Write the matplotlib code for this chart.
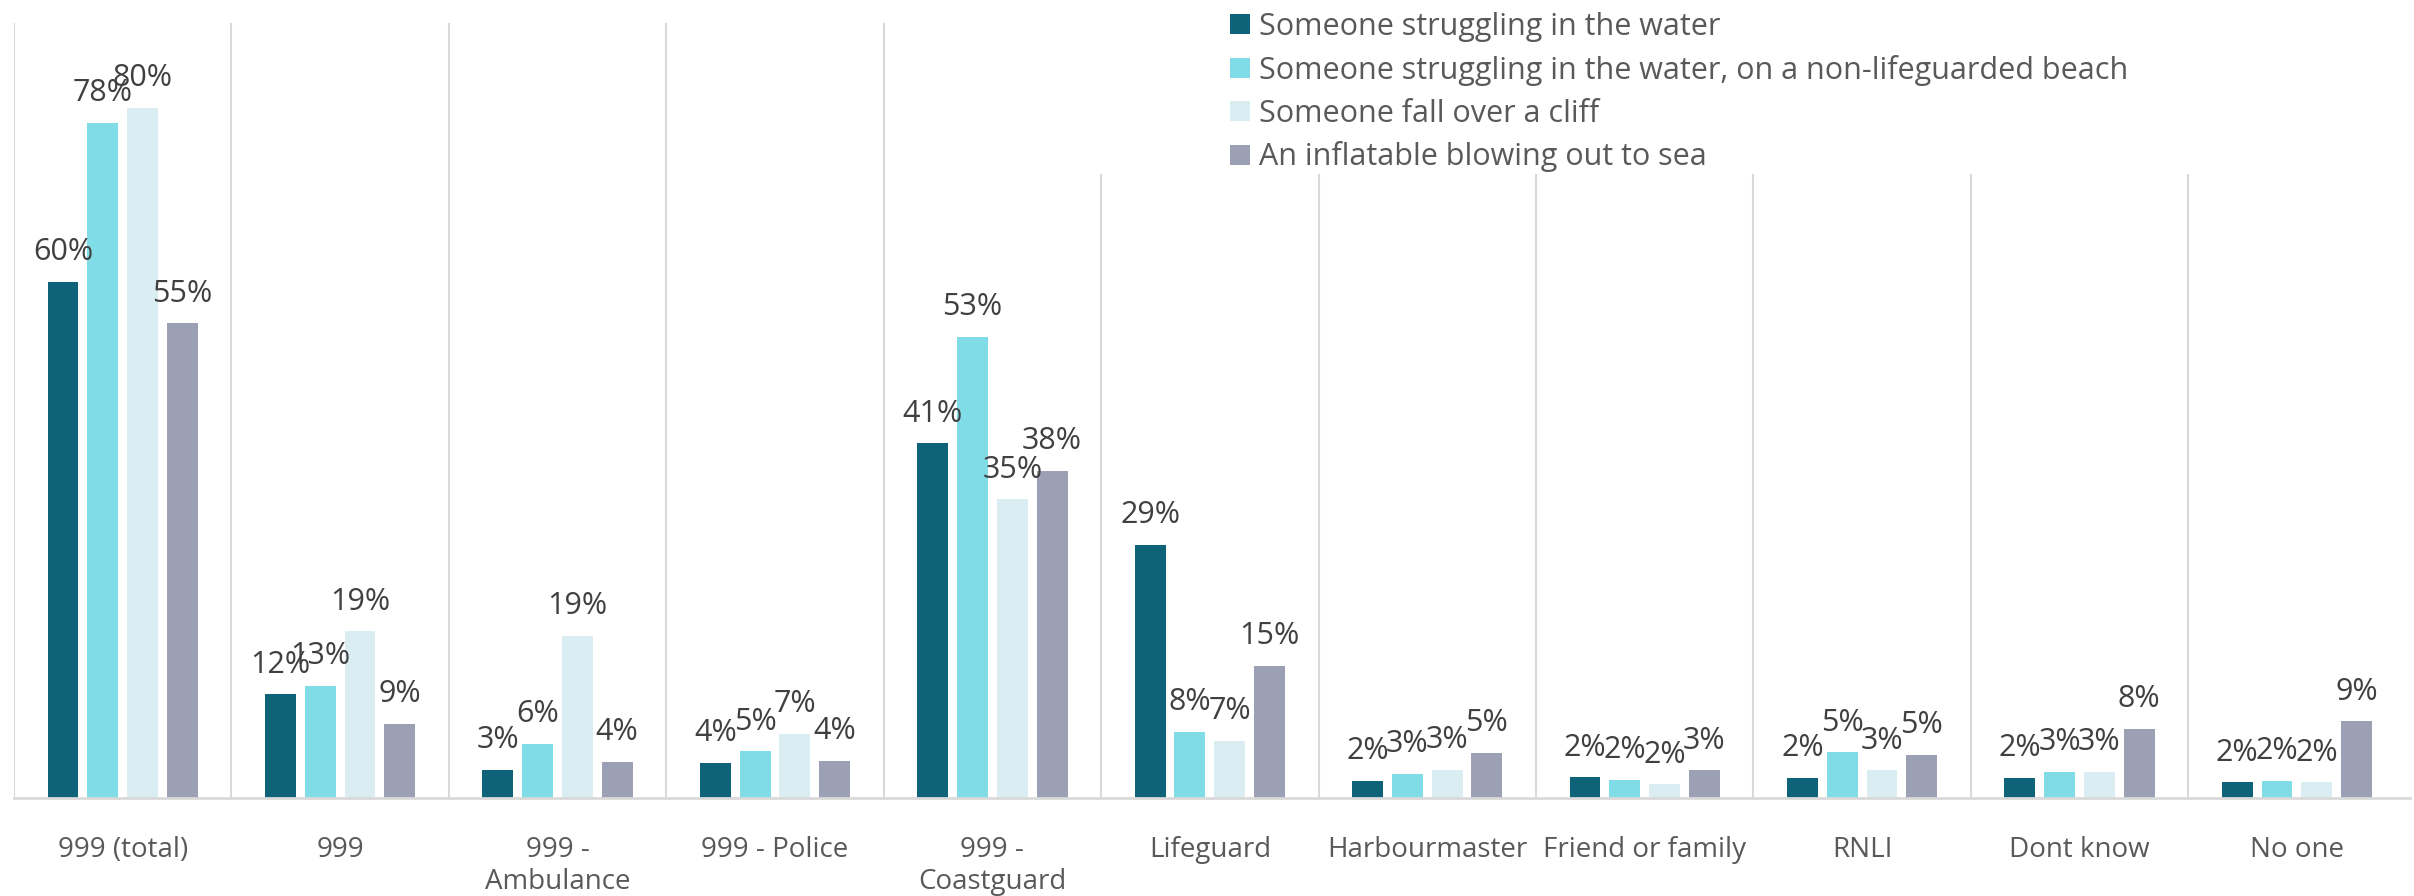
import numpy as np
import matplotlib.pyplot as plt
from matplotlib.patches import Rectangle

plt.rcParams['font.family'] = ['Open Sans', 'DejaVu Sans']

# categories and series (percent)
categories = ['999 (total)', '999', '999 -\nAmbulance', '999 - Police', '999 -\nCoastguard',
              'Lifeguard', 'Harbourmaster', 'Friend or family', 'RNLI', 'Dont know', 'No one']
series_names = ['Someone struggling in the water',
                'Someone struggling in the water, on a non-lifeguarded beach',
                'Someone fall over a cliff',
                'An inflatable blowing out to sea']
water = [59.8, 12.0, 3.3, 4.1, 41.1, 29.3, 2.0, 2.4, 2.3, 2.3, 1.8]
water_nolg = [78.2, 13.0, 6.3, 5.4, 53.4, 7.7, 2.8, 2.1, 5.3, 3.0, 2.0]
cliff = [80.0, 19.3, 18.8, 7.4, 34.6, 6.6, 3.3, 1.6, 3.2, 3.0, 1.8]
inflatable = [55.0, 8.6, 4.2, 4.3, 37.9, 15.3, 5.2, 3.2, 5.0, 8.0, 8.9]
# labels as printed on the chart
labels_txt = [
    [60, 12, 3, 4, 41, 29, 2, 2, 2, 2, 2],
    [78, 13, 6, 5, 53, 8, 3, 2, 5, 3, 2],
    [80, 19, 19, 7, 35, 7, 3, 2, 3, 3, 2],
    [55, 9, 4, 4, 38, 15, 5, 3, 5, 8, 9],
]
colors = ['#0E6378', '#80DCE6', '#D9EDF2', '#9CA0B5']

fig = plt.figure(figsize=(24.14, 8.96), dpi=100)
ax = fig.add_axes([14 / 2414, 98 / 896, 2396 / 2414, 775 / 896])

x = np.arange(len(categories))
width = 0.142
step = 0.183
data = [water, water_nolg, cliff, inflatable]
for i, (vals, col, name) in enumerate(zip(data, colors, series_names)):
    pos = x + (i - 1.5) * step
    ax.bar(pos, vals, width=width, color=col, label=name, zorder=3)
    for p, v, t in zip(pos, vals, labels_txt[i]):
        ax.text(p, v + 1.7, f'{t}%', ha='center', va='bottom', fontsize=22,
                color='#404040', zorder=5)

ax.set_xlim(-0.5, 10.52)
ax.set_ylim(0, 89.8)

# category separators
for b in np.arange(-0.5, 10.5, 1.0):
    ax.axvline(b, color='#D9D9D9', lw=1.5, zorder=1)

# legend area (white) hides the separators underneath
ax.add_patch(Rectangle((4.0, 72.3), 7, 30, facecolor='white', edgecolor='none', zorder=2))

for s in ['top', 'right', 'left']:
    ax.spines[s].set_visible(False)
ax.spines['bottom'].set_color('#D9D9D9')
ax.spines['bottom'].set_linewidth(2)
ax.spines['bottom'].set_zorder(4)

ax.set_yticks([])
ax.set_xticks(x)
ax.set_xticklabels(categories, fontsize=20, color='#595959', linespacing=1.22)
ax.tick_params(axis='x', length=0, pad=27)

leg = fig.legend(loc='upper left', bbox_to_anchor=(1230 / 2414, 1 - 12 / 896), frameon=False,
                 fontsize=22, handlelength=0.64, handleheight=0.64, handletextpad=0.3,
                 labelspacing=0.42, borderpad=0, borderaxespad=0)
for t in leg.get_texts():
    t.set_color('#595959')

fig.savefig('out.png', dpi=100, facecolor='white')
